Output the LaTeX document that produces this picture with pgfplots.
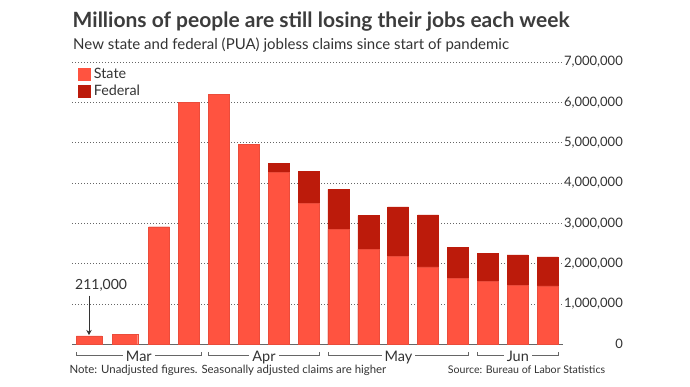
\documentclass[border=0pt]{standalone}
\usepackage{fontspec}
\setmainfont{Lato}
\usepackage{pgfplots}
\pgfplotsset{compat=1.18}
\usepackage{pgfplotstable}
\usetikzlibrary{arrows.meta}
\definecolor{stateC}{HTML}{FF5340}
\definecolor{fedC}{HTML}{BC1B0B}
\definecolor{txt}{HTML}{333333}
\definecolor{ttl}{HTML}{3C3C3C}
\definecolor{gridC}{HTML}{666666}
\definecolor{brk}{HTML}{666666}

\pgfplotstableread{
x state federal
0.657 211000 0
1.855 251000 0
}\wide
\pgfplotstableread{
x state federal
3 2910000 0
4 6000000 0
5 6190000 0
6 4950000 0
7 4270000 220000
8 3500000 790000
9 2850000 990000
10 2360000 830000
11 2180000 1230000
12 1920000 1290000
13 1630000 780000
14 1560000 690000
15 1470000 750000
16 1450000 720000
}\main

\begin{document}
\begin{tikzpicture}[x=1pt,y=1pt]
\path[use as bounding box] (0pt,0pt) rectangle (690pt,387pt);
\begin{axis}[
  at={(72pt,42.7pt)}, anchor=south west, scale only axis,
  width=491pt, height=282.3pt,
  xmin=0.081, xmax=16.518, ymin=0, ymax=7000000,
  clip=false,
  axis x line*=bottom, axis y line*=right,
  x axis line style={draw=brk, line width=1.3pt},
  y axis line style={draw=none},
  xtick=\empty,
  ytick={0,1000000,2000000,3000000,4000000,5000000,6000000,7000000},
  ymajorgrids,
  major grid style={gridC, line width=0.7pt, dash pattern=on 0.8pt off 2.2pt},
  major tick length=0pt,
  scaled y ticks=false,
  yticklabel style={font=\fontsize{13}{15}\selectfont, text=txt, anchor=east, xshift=60pt, inner sep=0pt},
  /pgf/number format/fixed,
  /pgf/number format/precision=0,
  /pgf/number format/1000 sep={,},
  /pgf/number format/assume math mode=true,
  legend image code/.code={\fill[#1] (0pt,-6pt) rectangle (12.7pt,6pt);},
  legend cell align=left,
  legend style={at={(0.0108,0.981)}, anchor=north west, draw=none, fill=none,
    inner sep=0pt, row sep=5.2pt, column sep=0pt,
    font=\fontsize{14.3}{16}\selectfont, text=txt,
    nodes={inner xsep=3.3pt, inner ysep=0pt}},
]
\addplot[ybar, bar width=21pt, bar shift=0pt, fill=fedC, draw=fedC, line width=0.4pt, forget plot]
  table[x=x, y expr=\thisrow{state}+\thisrow{federal}] {\main};
\addplot[ybar, bar width=21pt, bar shift=0pt, fill=stateC, draw=stateC!92!black, line width=0.4pt, forget plot]
  table[x=x, y=state] {\main};
\addplot[ybar, bar width=25.5pt, bar shift=0pt, fill=stateC, draw=stateC!92!black, line width=0.4pt, forget plot]
  table[x=x, y=state] {\wide};
\addlegendimage{stateC}
\addlegendentry{State}
\addlegendimage{fedC}
\addlegendentry{Federal}
\end{axis}

% titles
\node[anchor=base west, inner sep=0pt, text=ttl, font=\fontsize{21}{24}\selectfont\bfseries] at (72.5pt,359.5pt)
  {Millions of people are still losing their jobs each week};
\node[anchor=base west, inner sep=0pt, text=txt, font=\fontsize{15}{17}\selectfont] at (73pt,337.8pt)
  {New state and federal (PUA) jobless claims since start of pandemic};

% annotation
\node[anchor=base west, inner sep=0pt, text=txt, font=\fontsize{14}{16}\selectfont] at (75pt,97pt) {211,000};
\draw[-{Stealth[length=5pt,width=5.5pt]}, txt, line width=0.7pt] (89pt,91.3pt) -- (89pt,52pt);

% month brackets
\foreach \a/\b/\m in {76.7/201/Mar, 208.7/319.3/Apr, 328.3/468.7/May, 477.3/558.3/Jun}{
  \draw[brk, line width=0.8pt] (\a pt,34.7pt) -- (\a pt,31.4pt) -- (\b pt,31.4pt) -- (\b pt,34.7pt);
  \pgfmathsetmacro{\mid}{(\a+\b)/2}
  \node[fill=white, inner xsep=3pt, inner ysep=1pt, anchor=base, text=txt, font=\fontsize{14.5}{16}\selectfont]
    at (\mid pt,25.5pt) {\m};
}

% footer
\node[anchor=base west, inner sep=0pt, text=txt, font=\fontsize{11.4}{13}\selectfont] at (69.3pt,13.2pt)
  {Note: Unadjusted figures. Seasonally adjusted claims are higher};
\node[anchor=base east, inner sep=0pt, text=txt, font=\fontsize{10.6}{13}\selectfont] at (605.3pt,13.2pt)
  {Source: Bureau of Labor Statistics};
\end{tikzpicture}
\end{document}
